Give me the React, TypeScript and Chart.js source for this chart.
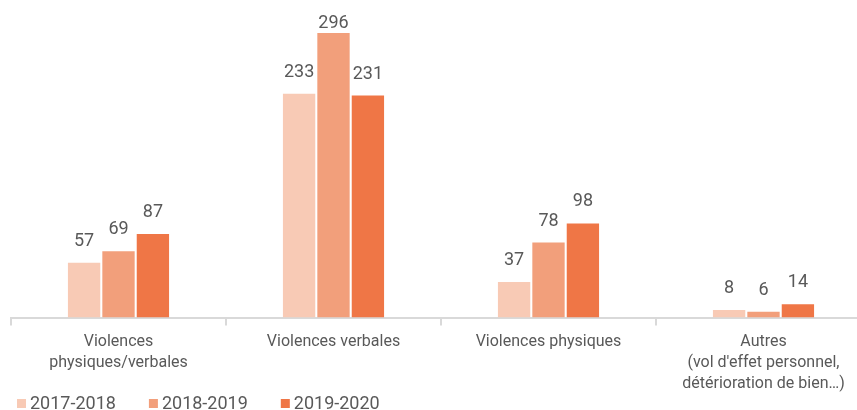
import React, { useEffect, useRef } from "react";
import { Chart, registerables } from "chart.js";

Chart.register(...registerables);

const categories: (string | string[])[] = [
  ["Violences", "physiques/verbales"],
  "Violences verbales",
  "Violences physiques",
  ["Autres", "(vol d'effet personnel,", "détérioration de bien…)"],
];
const seriesNames = ["2017-2018", "2018-2019", "2019-2020"];
const values2017 = [57, 233, 37, 8];
const values2018 = [69, 296, 78, 6];
const values2019 = [87, 231, 98, 14];
const colors = ["#F8CAB5", "#F29F7B", "#EF7646"];

const FONT = "Roboto, 'Noto Sans', sans-serif";

const valueLabels = {
  id: "valueLabels",
  afterDatasetsDraw(chart: any) {
    const ctx = chart.ctx;
    const top = chart.chartArea.top;
    ctx.save();
    ctx.font = `18px ${FONT}`;
    ctx.fillStyle = "#595959";
    ctx.textAlign = "center";
    ctx.textBaseline = "alphabetic";
    chart.data.datasets.forEach((ds: any, i: number) => {
      const meta = chart.getDatasetMeta(i);
      meta.data.forEach((el: any, j: number) => {
        const y = Math.max(el.y - 17, top + 18);
        ctx.fillText(String(ds.data[j]), el.x, y);
      });
    });
    ctx.restore();
  },
};

const customLegend = {
  id: "customLegend",
  afterDraw(chart: any) {
    const ctx = chart.ctx;
    ctx.save();
    ctx.font = `18px ${FONT}`;
    ctx.textAlign = "left";
    ctx.textBaseline = "middle";
    let x = 17;
    const yc = 403;
    chart.data.datasets.forEach((ds: any) => {
      ctx.fillStyle = ds.backgroundColor;
      ctx.fillRect(x, yc - 4, 9, 9);
      ctx.fillStyle = "#595959";
      ctx.fillText(ds.label, x + 13, yc + 1);
      x += 13 + ctx.measureText(ds.label).width + 33;
    });
    ctx.restore();
  },
};

export default function App() {
  const ref = useRef<HTMLCanvasElement>(null);
  useEffect(() => {
    if (!ref.current) return;
    const seriesValues = [values2017, values2018, values2019];
    const chart = new Chart(ref.current, {
      type: "bar",
      data: {
        labels: categories,
        datasets: seriesNames.map((name, i) => ({
          label: name,
          data: seriesValues[i],
          backgroundColor: colors[i],
          categoryPercentage: 0.48,
          barPercentage: 0.94,
        })),
      },
      options: {
        animation: false,
        responsive: true,
        maintainAspectRatio: false,
        layout: { padding: { left: 11, right: 0, top: 10, bottom: 10 } },
        plugins: {
          tooltip: { enabled: false },
          legend: { display: false },
        },
        scales: {
          x: {
            grid: {
              offset: true,
              drawOnChartArea: false,
              drawTicks: true,
              tickLength: 8,
              color: "#d9d9d9",
              lineWidth: 2,
            },
            border: { color: "#d9d9d9", width: 2 },
            ticks: {
              color: "#595959",
              font: { family: FONT, size: 16, lineHeight: 1.3 },
              padding: 6,
              maxRotation: 0,
              autoSkip: false,
            },
          },
          y: {
            display: false,
            min: 0,
            max: 320,
          },
        },
      },
      plugins: [valueLabels, customLegend],
    });
    return () => chart.destroy();
  }, []);
  return (
    <div
      style={{
        position: "fixed",
        left: 0,
        top: 0,
        width: 857,
        height: 410,
        overflow: "hidden",
        background: "#fff",
      }}
    >
      <div style={{ position: "absolute", left: 0, top: 0, width: 871, height: 410 }}>
        <canvas ref={ref} />
      </div>
    </div>
  );
}
